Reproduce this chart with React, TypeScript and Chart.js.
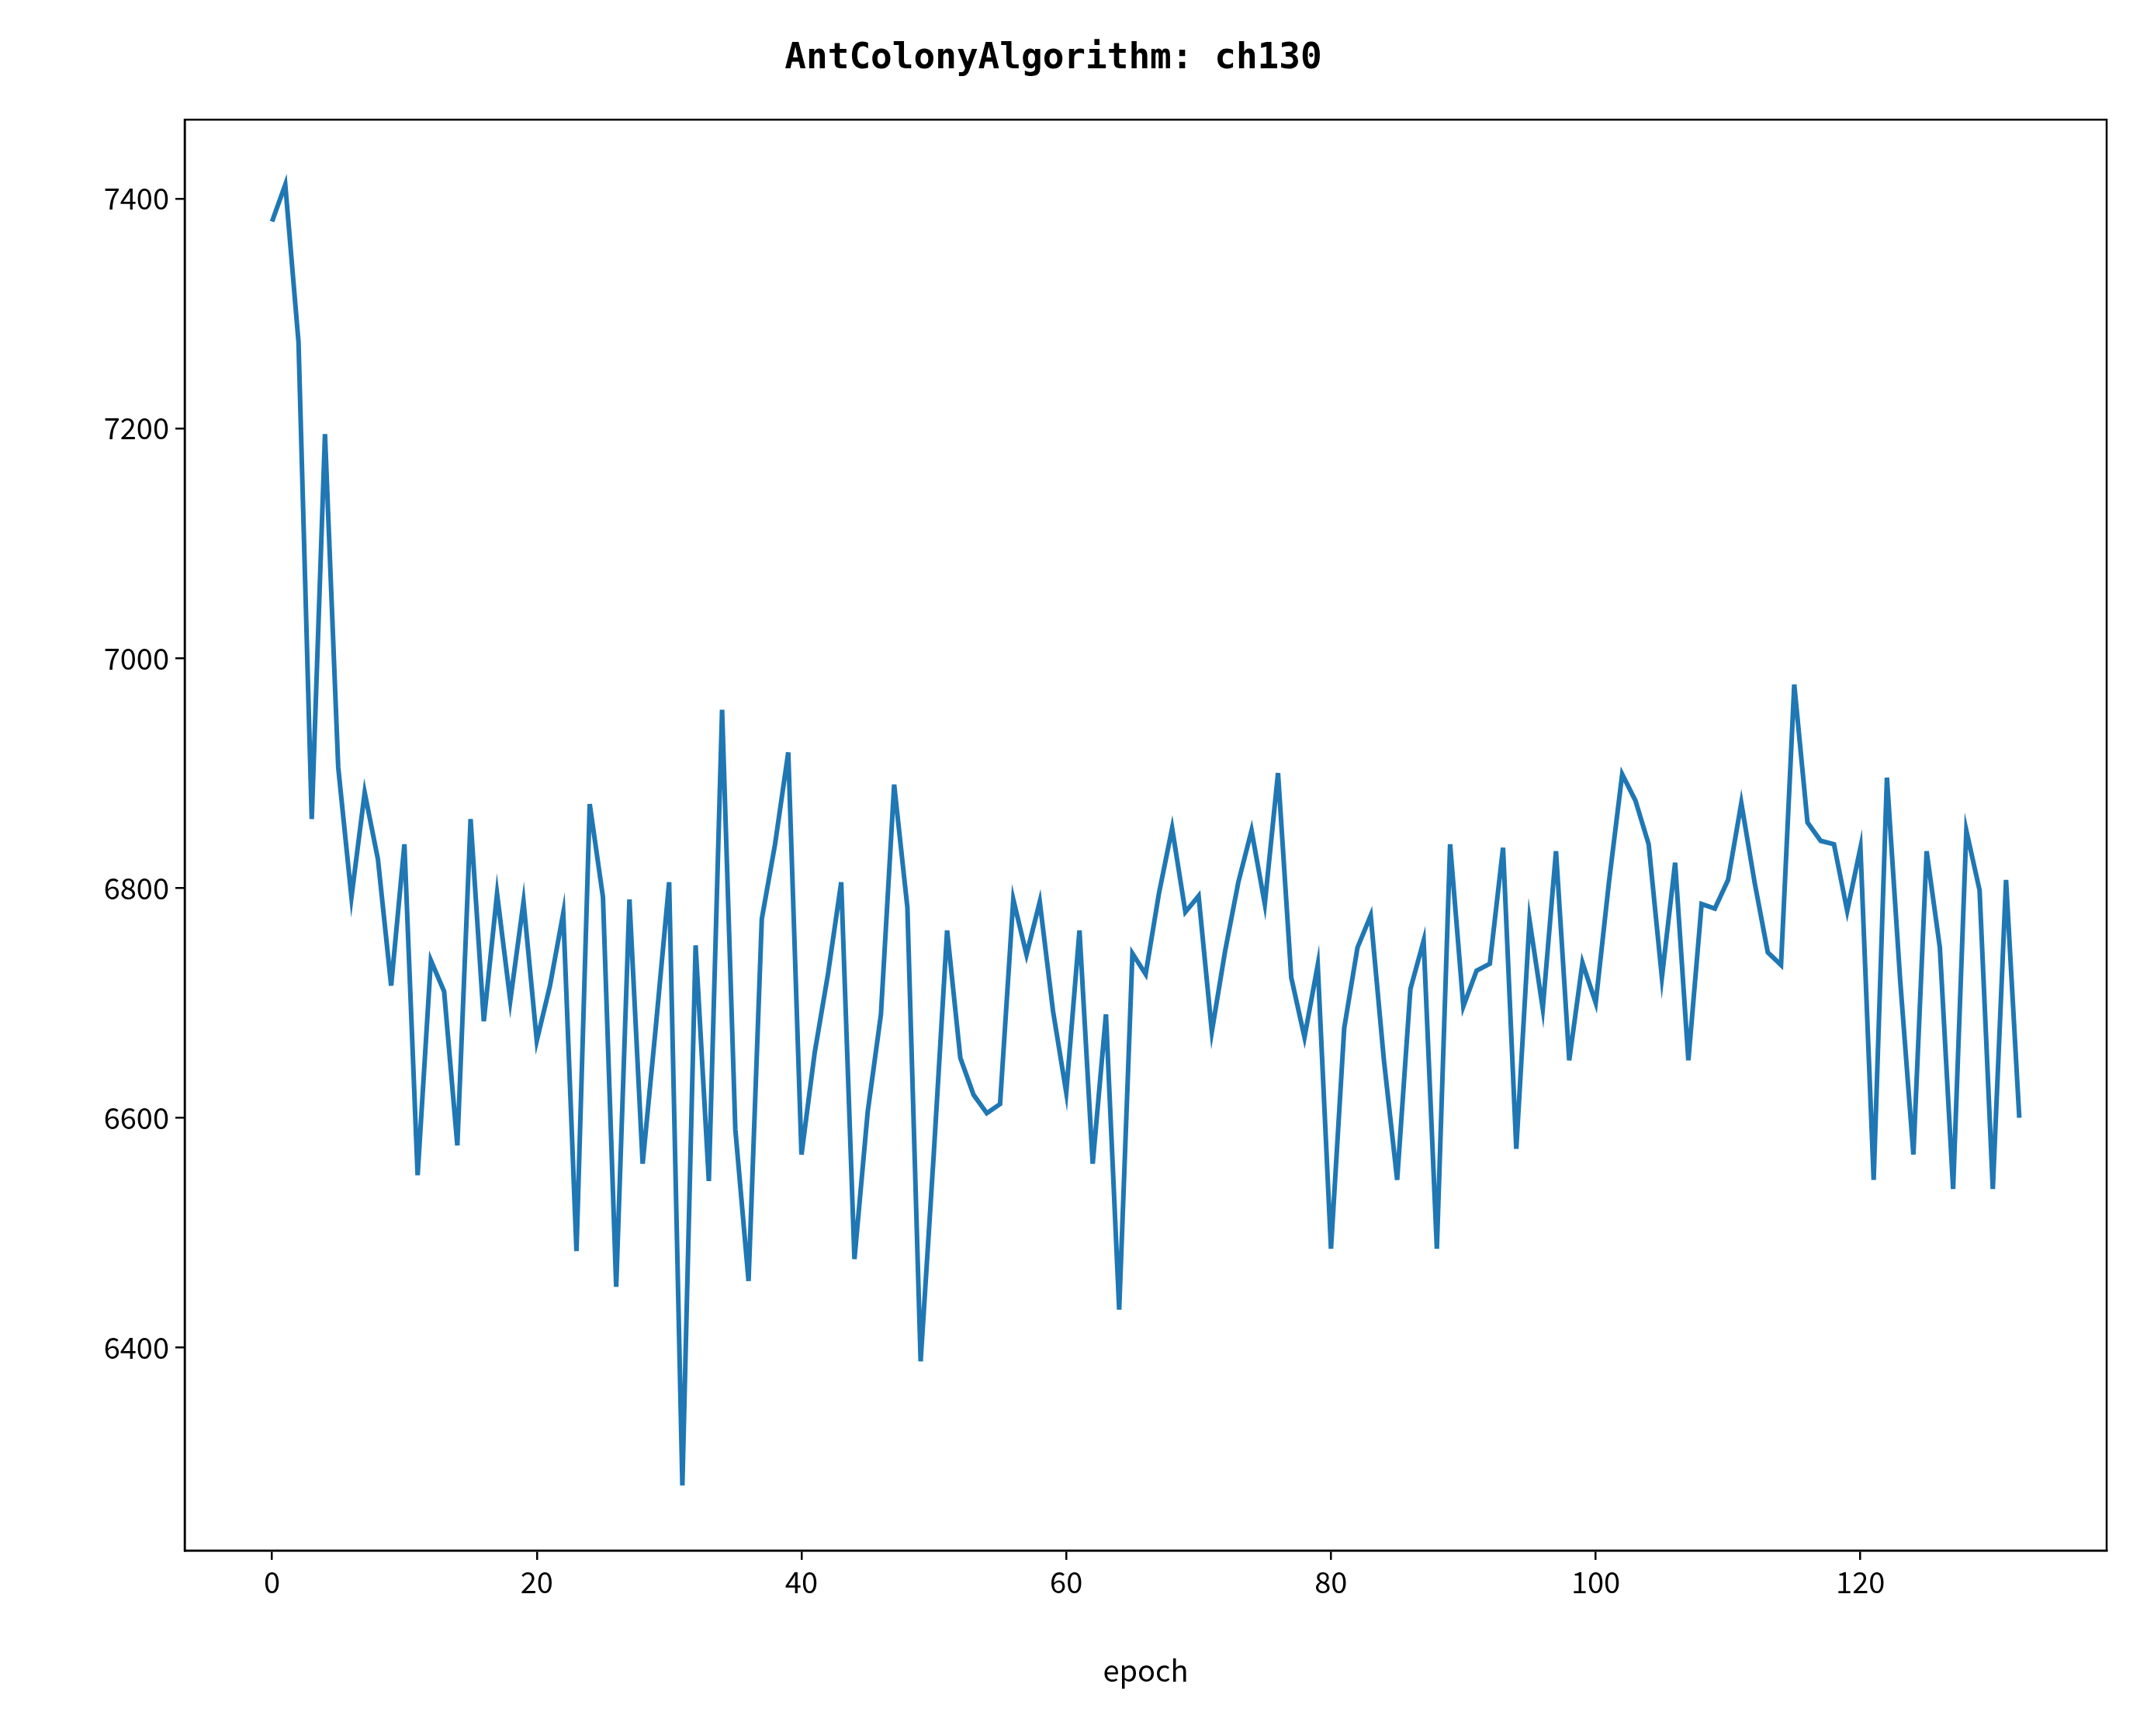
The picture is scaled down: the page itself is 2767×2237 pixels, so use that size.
import { useEffect, useRef } from "react"
import { Chart, registerables, type ChartConfiguration } from "chart.js"

Chart.register(...registerables)

// best tour length per epoch
const tourLength = [
  7380, 7412, 7275, 6860, 7195, 6905, 6792, 6883, 6825, 6715,
  6838, 6550, 6737, 6710, 6576, 6860, 6684, 6795, 6702, 6788,
  6667, 6715, 6778, 6484, 6873, 6792, 6453, 6790, 6560, 6680,
  6805, 6280, 6750, 6545, 6955, 6590, 6458, 6773, 6838, 6918,
  6568, 6657, 6725, 6805, 6477, 6605, 6690, 6890, 6783, 6388,
  6570, 6763, 6652, 6620, 6604, 6612, 6790, 6742, 6788, 6693,
  6622, 6763, 6560, 6690, 6433, 6743, 6725, 6795, 6852, 6779,
  6793, 6675, 6745, 6805, 6850, 6786, 6900, 6722, 6670, 6733,
  6486, 6678, 6748, 6776, 6650, 6546, 6712, 6754, 6486, 6838,
  6697, 6728, 6734, 6835, 6573, 6772, 6695, 6832, 6650, 6735,
  6700, 6805, 6899, 6876, 6838, 6722, 6822, 6650, 6786, 6782,
  6807, 6874, 6805, 6744, 6733, 6977, 6857, 6841, 6838, 6780,
  6835, 6546, 6896, 6720, 6568, 6832, 6748, 6538, 6850, 6798,
  6538, 6807, 6600,
]
const xTicks = [0, 20, 40, 60, 80, 100, 120]
const yTicks = [6400, 6600, 6800, 7000, 7200, 7400]

const FONT = "'Noto Sans CJK SC', 'DejaVu Sans', sans-serif"

const frame = {
  id: "frame",
  afterDraw(chart: Chart) {
    const { ctx, chartArea: a } = chart
    ctx.save()
    ctx.strokeStyle = "#000"
    ctx.lineWidth = 2.5
    ctx.strokeRect(a.left, a.top, a.right - a.left, a.bottom - a.top)
    ctx.restore()
  },
}

export default function App() {
  const ref = useRef<HTMLCanvasElement>(null)

  useEffect(() => {
    if (!ref.current) return
    const points = tourLength.map((v, i) => ({ x: i, y: v }))
    const config: ChartConfiguration<"line"> = {
      type: "line",
      data: {
        datasets: [
          {
            data: points,
            borderColor: "#1f77b4",
            borderWidth: 6,
            pointRadius: 0,
            tension: 0,
          },
        ],
      },
      options: {
        animation: false,
        responsive: false,
        layout: { padding: { left: 0, right: 52, top: 0, bottom: 58 } },
        plugins: {
          legend: { display: false },
          tooltip: { enabled: false },
          title: {
            display: true,
            text: "AntColonyAlgorithm: ch130",
            color: "#000",
            font: { family: "'DejaVu Sans Mono', monospace", size: 46, weight: "bold", lineHeight: 1.2 },
            padding: { top: 48, bottom: 51 },
          },
        },
        scales: {
          x: {
            type: "linear",
            min: -6.6,
            max: 138.6,
            afterBuildTicks: (s) => {
              s.ticks = xTicks.map((value) => ({ value }))
            },
            afterFit: (s) => {
              s.height = 181
            },
            grid: { display: true, drawOnChartArea: false, drawTicks: true, tickLength: 12, color: "#000", lineWidth: 2.5 },
            border: { display: true, color: "#000", width: 2.5 },
            ticks: { color: "#000", font: { family: FONT, size: 38 }, padding: 6, maxRotation: 0, callback: (v) => String(v) },
            title: { display: true, text: "epoch", color: "#000", font: { family: FONT, size: 38 }, padding: { top: 0 } },
          },
          y: {
            type: "linear",
            min: 6223.4,
            max: 7468.6,
            afterBuildTicks: (s) => {
              s.ticks = yTicks.map((value) => ({ value }))
            },
            afterFit: (s) => {
              s.width = 238
            },
            grid: { display: true, drawOnChartArea: false, drawTicks: true, tickLength: 12, color: "#000", lineWidth: 2.5 },
            border: { display: true, color: "#000", width: 2.5 },
            ticks: { color: "#000", font: { family: FONT, size: 38 }, padding: 8, callback: (v) => String(v) },
          },
        },
      },
      plugins: [frame],
    }
    const chart = new Chart(ref.current, config)
    return () => chart.destroy()
  }, [])

  return (
    <div style={{ position: "absolute", left: 0, top: 0, width: 2767, height: 2237, background: "#fff" }}>
      <canvas ref={ref} width={2767} height={2237} style={{ width: 2767, height: 2237 }} />
    </div>
  )
}
